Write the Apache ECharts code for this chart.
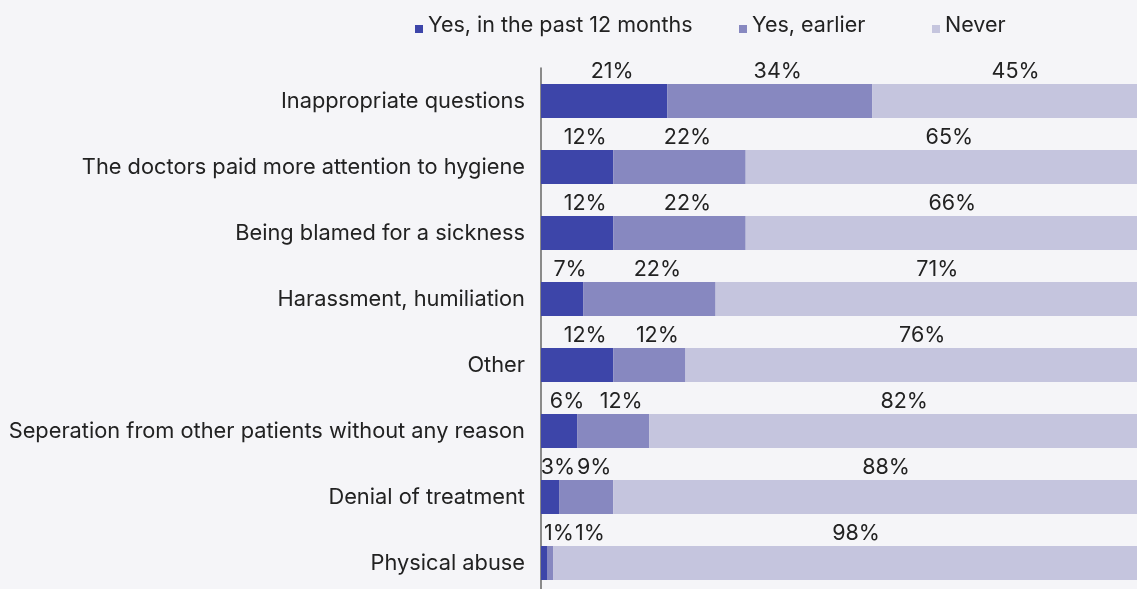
<!DOCTYPE html>
<html>
<head>
<meta charset="utf-8">
<style>
  html, body { margin: 0; padding: 0; background: #f5f5f8; }
  #chart { width: 1137px; height: 589px; }
</style>
<script src="https://cdn.jsdelivr.net/npm/echarts@6/dist/echarts.min.js"></script>
</head>
<body>
<div id="chart"></div>
<script>
// Experiences with doctors, share of respondents (%)
const categories = [
  'Inappropriate questions',
  'The doctors paid more attention to hygiene',
  'Being blamed for a sickness',
  'Harassment, humiliation',
  'Other',
  'Seperation from other patients without any reason',
  'Denial of treatment',
  'Physical abuse'
];
const seriesNames = ['Yes, in the past 12 months', 'Yes, earlier', 'Never'];
const past12Months = [21, 12, 12, 7, 12, 6, 3, 1];
const earlier = [34, 22, 22, 22, 12, 12, 9, 1];
const never = [45, 65, 66, 71, 76, 82, 88, 98];

const colors = ['#3d45a9', '#8788c0', '#c5c5de'];
const FONT = 'Inter';

// extra horizontal label shift for very thin segments, keyed by series then row
const thinLabelShift = { 0: { 7: 15 }, 1: { 7: 40 } };

const chart = echarts.init(document.getElementById('chart'), null, { renderer: 'canvas' });

function barSeries(idx, values) {
  return {
    name: seriesNames[idx],
    type: 'bar',
    stack: 'total',
    barWidth: 34,
    itemStyle: { color: colors[idx] },
    data: values.map((v, row) => {
      const shift = (thinLabelShift[idx] || {})[row];
      return shift === undefined ? v : { value: v, label: { offset: [shift, 0] } };
    }),
    label: {
      show: true,
      position: 'top',
      distance: 1,
      offset: [8, 0],
      formatter: '{c}%',
      color: '#222',
      fontFamily: FONT,
      fontSize: 21.5
    },
    emphasis: { disabled: true }
  };
}

// square legend marker sitting on the text baseline
const legendIcon = 'path://M0,0M0,6h8v8h-8Z';
const legendPos = [415, 739, 932];

chart.setOption({
  backgroundColor: '#f5f5f8',
  animation: false,
  color: colors,
  legend: seriesNames.map((n, i) => ({
    data: [n],
    left: legendPos[i],
    top: 15,
    padding: 0,
    icon: legendIcon,
    itemWidth: 8,
    itemHeight: 14,
    itemGap: 0,
    itemTextGap: 4,
    selectedMode: false,
    textStyle: { fontFamily: FONT, fontSize: 21.5, color: '#222' }
  })),
  grid: {
    left: 541, top: 68, width: 602, height: 528,
    containLabel: false,
    outerBoundsMode: 'none'
  },
  xAxis: {
    type: 'value',
    min: 0,
    max: 100,
    show: false
  },
  yAxis: {
    type: 'category',
    data: categories,
    inverse: true,
    axisLine: { show: true, lineStyle: { color: '#666', width: 1.5 } },
    axisTick: { show: false },
    axisLabel: {
      margin: 16,
      color: '#222',
      fontFamily: FONT,
      fontSize: 21.8,
      padding: [0, 0, 4, 0]
    }
  },
  series: [
    barSeries(0, past12Months),
    barSeries(1, earlier),
    barSeries(2, never)
  ]
});
</script>
</body>
</html>
